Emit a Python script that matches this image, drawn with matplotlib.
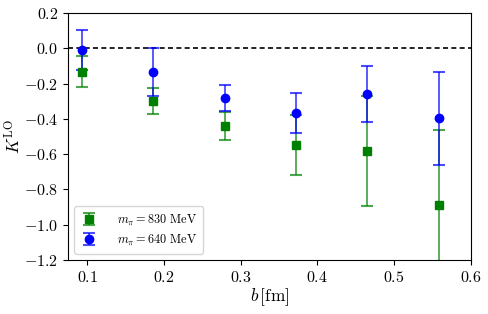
import numpy as np
import matplotlib
matplotlib.use('Agg')
import matplotlib.pyplot as plt

# data
b = [0.093, 0.186, 0.279, 0.372, 0.465, 0.558]
k_830 = [-0.131, -0.300, -0.440, -0.546, -0.581, -0.887]
err_830 = [0.090, 0.074, 0.079, 0.170, 0.310, 0.426]
k_640 = [-0.008, -0.131, -0.281, -0.366, -0.257, -0.397]
err_640 = [0.112, 0.136, 0.072, 0.115, 0.158, 0.266]

plt.rcParams['mathtext.fontset'] = 'cm'
plt.rcParams['font.family'] = 'serif'
plt.rcParams['font.serif'] = ['cmr10']
plt.rcParams['axes.formatter.use_mathtext'] = True

fig = plt.figure(figsize=(4.89, 3.14), dpi=100)
ax = fig.add_axes([0.139, 0.172, 0.824, 0.786])

ax.axhline(0.0, color='k', ls='--', lw=1.2, dashes=(3, 2))
ax.errorbar(b, k_830, yerr=err_830, fmt='s', color='green', ms=6,
            ecolor=(0.0, 0.5, 0.0, 0.7), capsize=4, elinewidth=1.3,
            capthick=1.5, label=r'$m_\pi = 830$ MeV')
ax.errorbar(b, k_640, yerr=err_640, fmt='o', color='blue', ms=6,
            ecolor=(0.0, 0.0, 1.0, 0.7), capsize=4, elinewidth=1.3,
            capthick=1.5, label=r'$m_\pi = 640$ MeV')

ax.set_xlim(0.075, 0.6)
ax.set_ylim(-1.2, 0.2)
ax.set_xticks([0.1, 0.2, 0.3, 0.4, 0.5, 0.6])
ax.set_yticks(np.arange(-1.2, 0.21, 0.2))
ax.tick_params(labelsize=11.5)
ax.set_xlabel(r'$b\,[\mathrm{fm}]$', fontsize=12.5, labelpad=1)
ax.set_ylabel(r'$K^{\rm LO}$', fontsize=12.5, labelpad=0)

ax.legend(loc='lower left', fontsize=8.8, handlelength=1.4, borderpad=0.5,
          handletextpad=1.6, labelspacing=0.35)

fig.savefig('out.png', dpi=100)
